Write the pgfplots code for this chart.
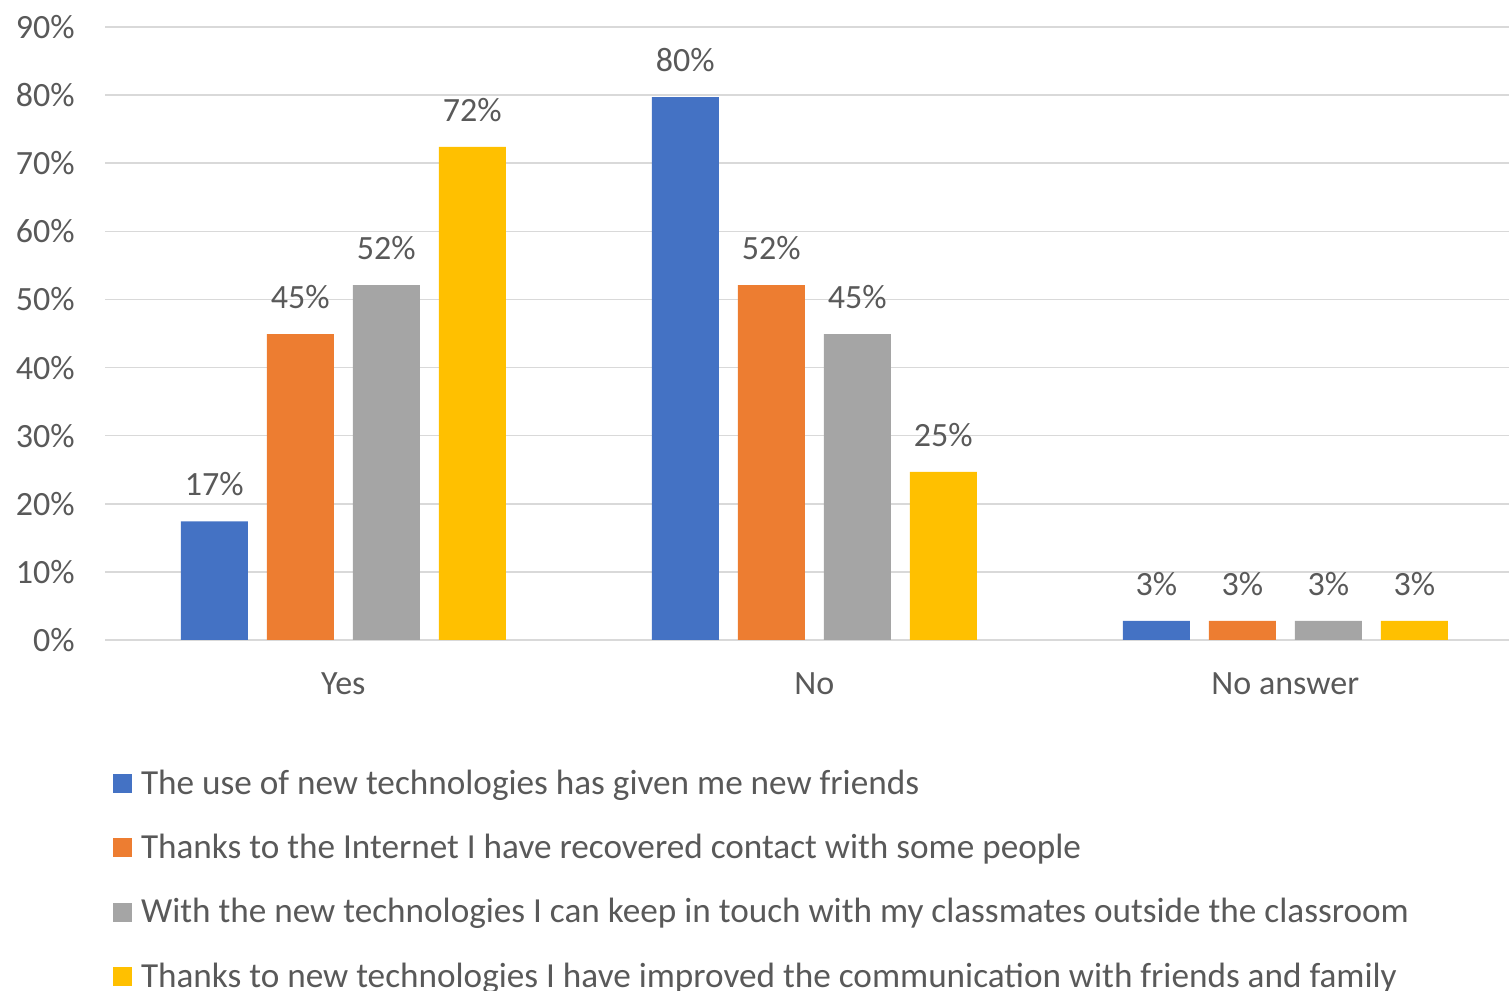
\documentclass[border=0pt]{standalone}
\usepackage{pgfplots}
\pgfplotsset{compat=1.18}
\usepackage{fontspec}
\setmainfont{Carlito}

\definecolor{sBlue}{HTML}{4472C4}
\definecolor{sOrange}{HTML}{ED7D31}
\definecolor{sGrey}{HTML}{A5A5A5}
\definecolor{sYellow}{HTML}{FFC000}
\definecolor{txt}{HTML}{595959}
\definecolor{gridc}{HTML}{D9D9D9}

\newcommand{\chartfont}{\fontsize{17}{20}\selectfont}
\newcommand{\legfont}{\fontsize{17.6}{20}\selectfont}

\begin{document}
\begin{tikzpicture}
\begin{axis}[
    at={(52.5pt,-13.5pt)}, anchor=north west,
    width=702pt, height=306.5pt, scale only axis,
    ybar=9.5pt, bar width=33.5pt,
    xmin=-0.506, xmax=2.475,
    ymin=0, ymax=90,
    ytick={0,10,...,90},
    xtick={0,1,2},
    xticklabels={Yes,No,No answer},
    /pgf/number format/assume math mode=true,
    yticklabel={\pgfmathprintnumber[fixed,precision=0]{\tick}\%},
    axis line style={draw=none},
    tick style={draw=none},
    major tick length=0pt,
    ymajorgrids,
    grid style={color=gridc, line width=0.8pt},
    ticklabel style={font=\chartfont, text=txt},
    yticklabel style={inner sep=0pt, xshift=-15pt},
    xticklabel style={inner sep=0pt, yshift=-16pt},
    clip=false,
    nodes near coords={\pgfmathprintnumber[fixed,precision=0]{\pgfplotspointmeta}\%},
    every node near coord/.append style={font=\chartfont, text=txt, anchor=south, inner sep=0pt, yshift=12.5pt},
    legend image code/.code={\fill[#1] (0pt,-4.75pt) rectangle (9.5pt,4.75pt);},
    legend cell align=left,
    legend style={
        at={(0,0)}, anchor=north west, xshift=4pt, yshift=-65pt,
        draw=none, fill=none, inner sep=0pt, outer sep=0pt,
        font=\legfont, text=txt,
        row sep=18.4pt, column sep=4.5pt,
        nodes={inner sep=0pt},
    },
]
\addplot[draw=none, fill=sBlue] coordinates {(0,17.4) (1,79.7) (2,2.8)};
\addplot[draw=none, fill=sOrange] coordinates {(0,44.9) (1,52.1) (2,2.8)};
\addplot[draw=none, fill=sGrey] coordinates {(0,52.1) (1,44.9) (2,2.8)};
\addplot[draw=none, fill=sYellow] coordinates {(0,72.4) (1,24.7) (2,2.8)};
\legend{The use of new technologies has given me new friends,
        Thanks to the Internet I have recovered contact with some people,
        With the new technologies I can keep in touch with my classmates outside the classroom,
        Thanks to new technologies I have improved the communication with friends and family}
\end{axis}
\pgfresetboundingbox
\path (0,0) rectangle (754.5pt,-495pt);
\end{tikzpicture}
\end{document}
